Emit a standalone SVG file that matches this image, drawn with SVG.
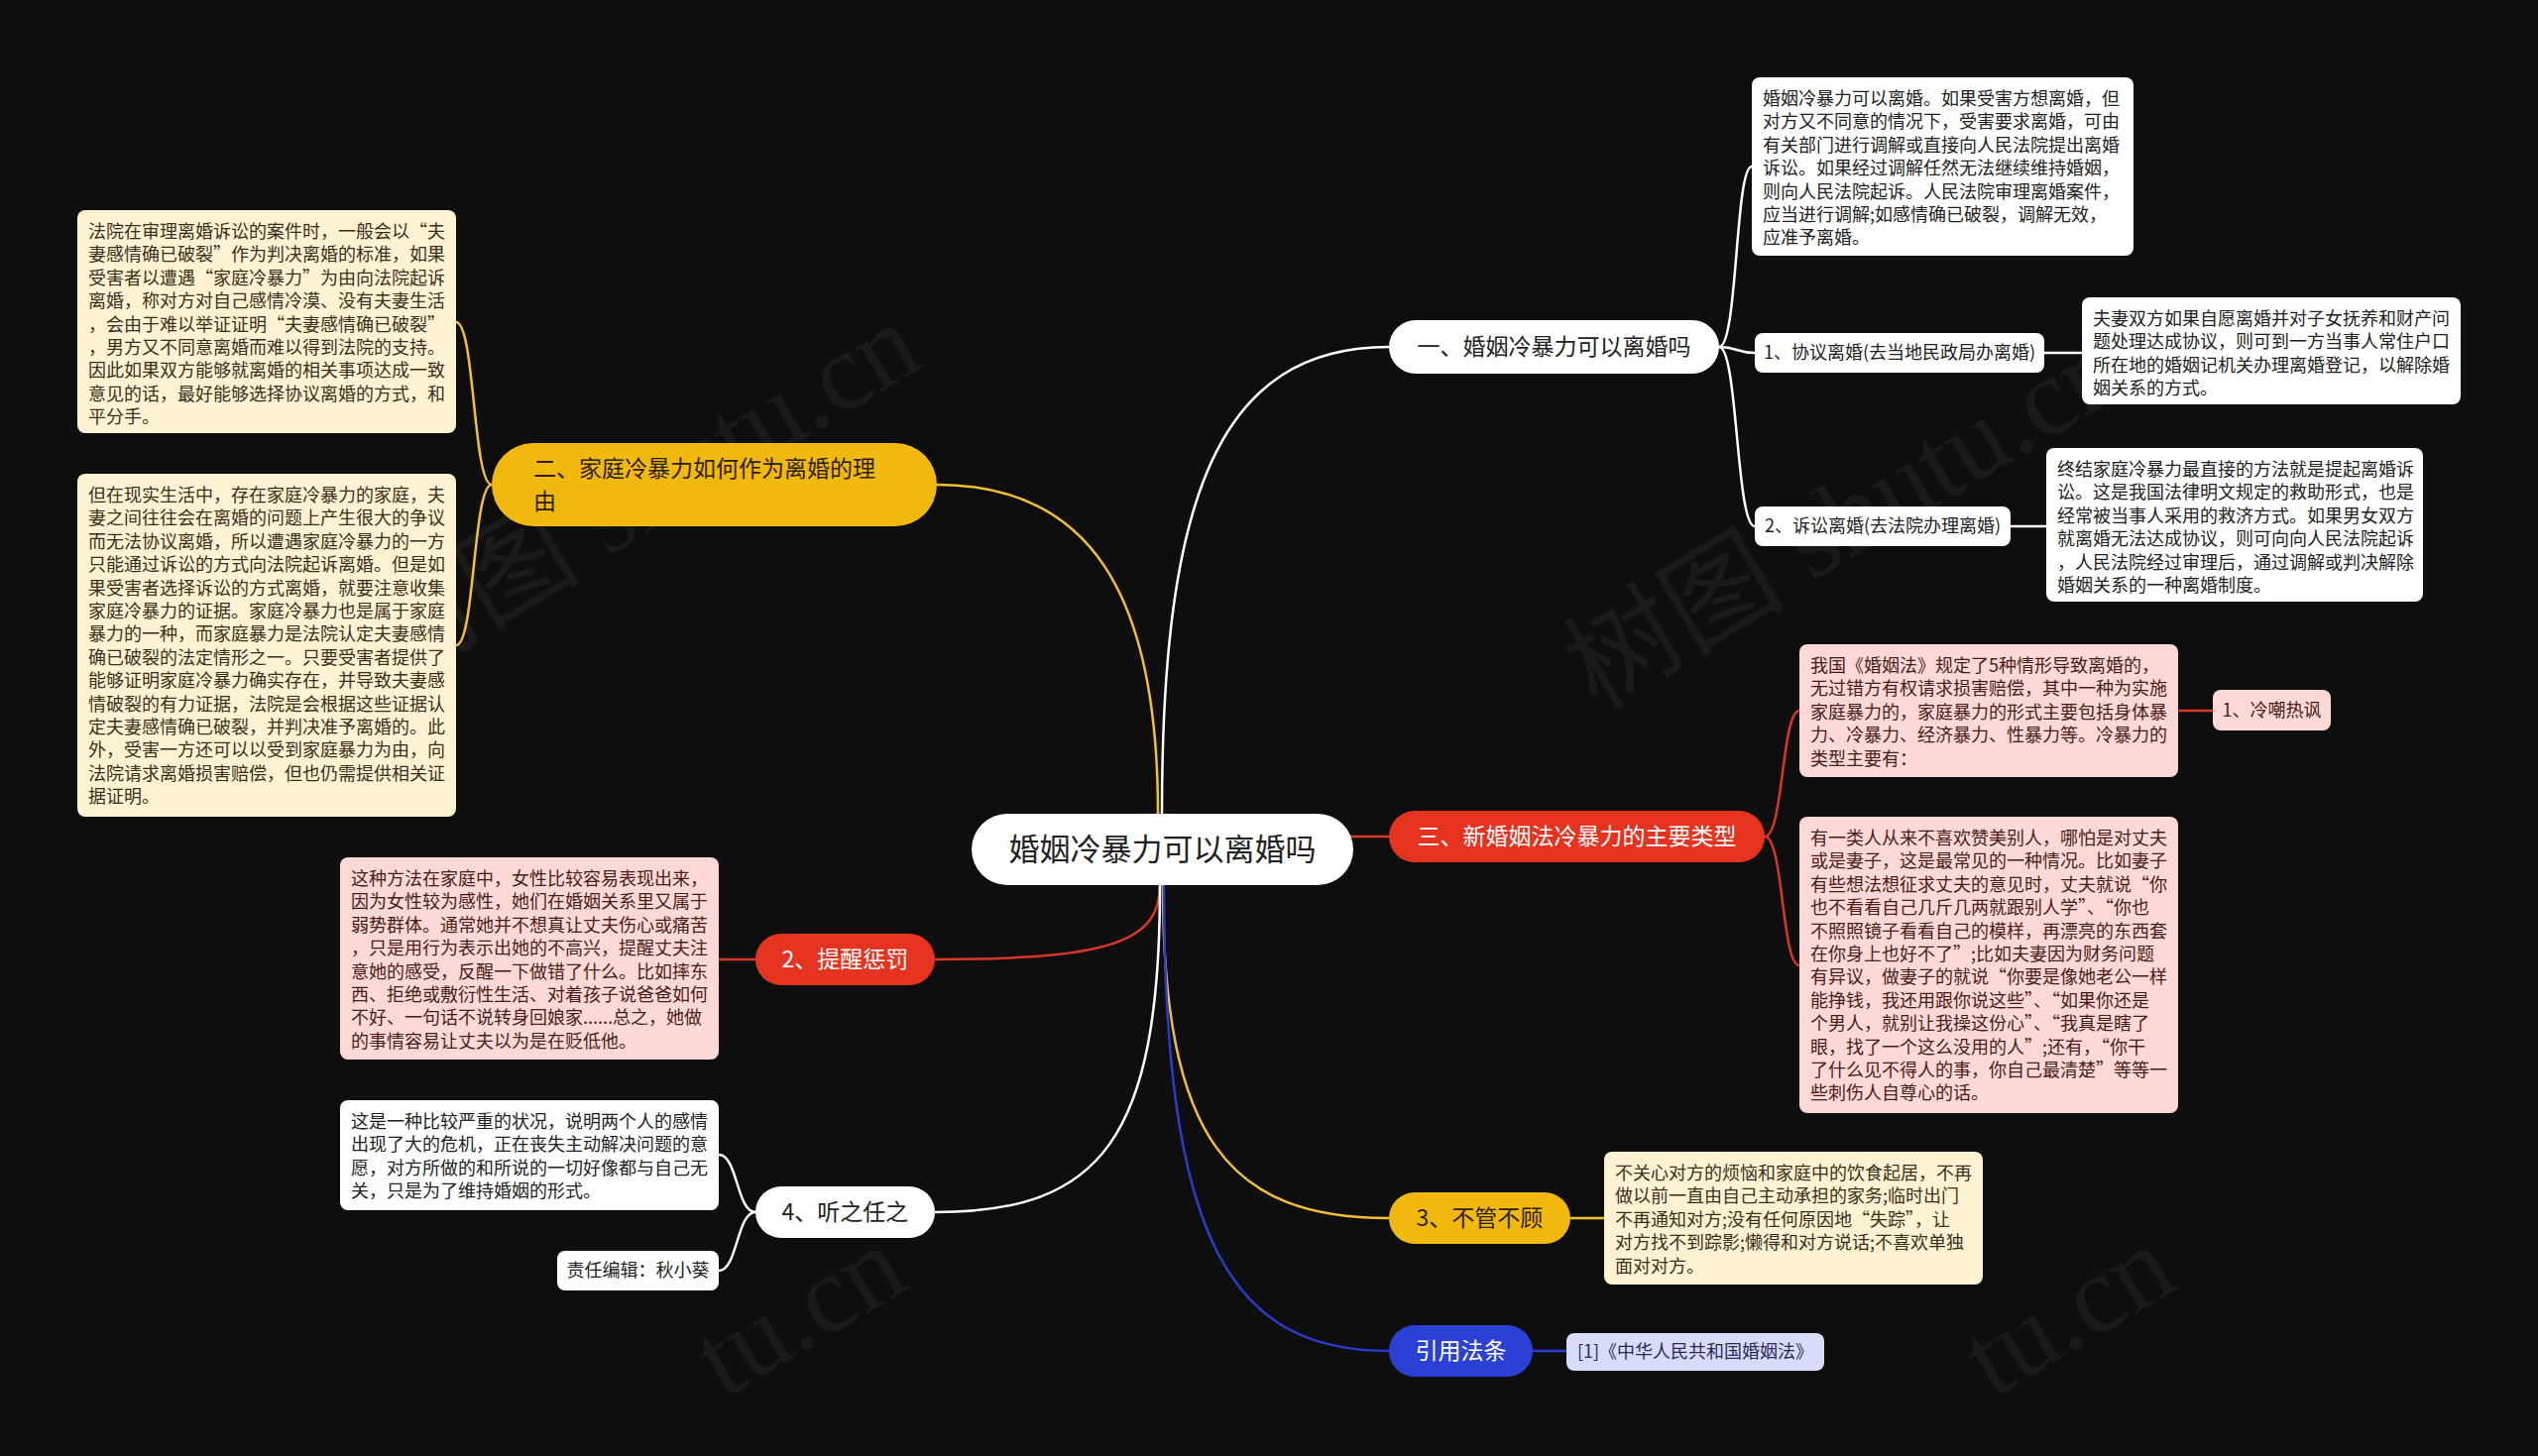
<svg xmlns="http://www.w3.org/2000/svg" width="2560" height="1469" viewBox="0 0 2560 1469">
<style>
text{font-family:"Noto Sans CJK SC","Noto Sans",sans-serif}
.c{fill:none;stroke-width:2.5}
.w{stroke:#ffffff}.y{stroke:#f2c12e}.r{stroke:#d8382a}.b{stroke:#2a3bd0}
.t{font-size:18px}
.tw{fill:#222222}.tc{fill:#3b2f1a}.tp{fill:#4a1c17}
.n{font-size:23px;text-anchor:middle}
.wm{font-size:112px;fill:#ffffff;fill-opacity:0.05;text-anchor:middle;font-family:"Liberation Serif","Noto Sans CJK SC",serif}
</style>
<rect width="2560" height="1469" fill="#0e0e0e"/>
<g id="watermarks">
<text class="wm" transform="translate(665,530) rotate(-31)">树图 shutu.cn</text>
<text class="wm" transform="translate(1880,555) rotate(-31)">树图 shutu.cn</text>
<text class="wm" transform="translate(825,1355) rotate(-31)">tu.cn</text>
<text class="wm" transform="translate(2105,1355) rotate(-31)">tu.cn</text>
</g>
<g id="connectors">
<path class="c w" d="M1172,821 C1172,500 1230,350 1401,350"/>
<path class="c y" d="M1168,821 C1168,600 1100,489 945,489"/>
<path class="c r" d="M1355,844 H1401"/>
<path class="c r" d="M1170,893 C1170,950 1120,968 943,968"/>
<path class="c w" d="M1170,893 C1170,1150 1110,1223 943,1223"/>
<path class="c y" d="M1173,893 C1173,1150 1240,1229 1401,1229"/>
<path class="c b" d="M1174,893 C1174,1250 1240,1363 1401,1363"/>
<path class="c w" d="M1734,350 C1753,350 1750,168 1767,168"/>
<path class="c w" d="M1734,350 C1752,350 1752,356 1770,356"/>
<path class="c w" d="M1734,350 C1753,350 1751,531 1770,531"/>
<path class="c w" d="M2062,356 H2100"/>
<path class="c w" d="M2028,531 H2064"/>
<path class="c r" d="M1780,844 C1799,844 1797,717 1815,717"/>
<path class="c r" d="M1780,844 C1799,844 1797,974 1815,974"/>
<path class="c r" d="M2197,717 H2232"/>
<path class="c y" d="M496,489 C477,489 479,325 460,325"/>
<path class="c y" d="M496,489 C477,489 479,651 460,651"/>
<path class="c r" d="M762,968 H725"/>
<path class="c w" d="M762,1223 C743,1223 744,1165 725,1165"/>
<path class="c w" d="M762,1223 C743,1223 744,1282 725,1282"/>
<path class="c y" d="M1584,1229 H1618"/>
<path class="c b" d="M1546,1363 H1580"/>
</g>
<g id="center">
<rect x="980" y="821" width="385" height="72" rx="36" fill="#ffffff"/>
<text x="1172.5" y="868" font-size="31" text-anchor="middle" fill="#222222">婚姻冷暴力可以离婚吗</text>
</g>
<g id="n1">
<rect x="1401" y="323" width="333" height="54" rx="27" fill="#ffffff"/>
<text class="n" x="1567.5" y="358" fill="#222222">一、婚姻冷暴力可以离婚吗</text>
</g>
<g id="n1a">
<rect x="1767" y="78" width="385" height="180" rx="8" fill="#ffffff"/>
<text class="t tw" x="1778" y="106"><tspan x="1778">婚姻冷暴力可以离婚。如果受害方想离婚，但</tspan><tspan x="1778" dy="23.4">对方又不同意的情况下，受害要求离婚，可由</tspan><tspan x="1778" dy="23.4">有关部门进行调解或直接向人民法院提出离婚</tspan><tspan x="1778" dy="23.4">诉讼。如果经过调解任然无法继续维持婚姻，</tspan><tspan x="1778" dy="23.4">则向人民法院起诉。人民法院审理离婚案件，</tspan><tspan x="1778" dy="23.4">应当进行调解;如感情确已破裂，调解无效，</tspan><tspan x="1778" dy="23.4">应准予离婚。</tspan></text>
</g>
<g id="n1b">
<rect x="1770" y="336" width="292" height="40" rx="8" fill="#ffffff"/>
<text class="t tw" x="1916" y="362" text-anchor="middle">1、协议离婚(去当地民政局办离婚)</text>
</g>
<g id="n1b1">
<rect x="2100" y="300" width="382" height="108" rx="8" fill="#ffffff"/>
<text class="t tw" x="2111" y="328"><tspan x="2111">夫妻双方如果自愿离婚并对子女抚养和财产问</tspan><tspan x="2111" dy="23.4">题处理达成协议，则可到一方当事人常住户口</tspan><tspan x="2111" dy="23.4">所在地的婚姻记机关办理离婚登记，以解除婚</tspan><tspan x="2111" dy="23.4">姻关系的方式。</tspan></text>
</g>
<g id="n1c">
<rect x="1770" y="511" width="258" height="40" rx="8" fill="#ffffff"/>
<text class="t tw" x="1899" y="537" text-anchor="middle">2、诉讼离婚(去法院办理离婚)</text>
</g>
<g id="n1c1">
<rect x="2064" y="452" width="380" height="155" rx="8" fill="#ffffff"/>
<text class="t tw" x="2075" y="480"><tspan x="2075">终结家庭冷暴力最直接的方法就是提起离婚诉</tspan><tspan x="2075" dy="23.4">讼。这是我国法律明文规定的救助形式，也是</tspan><tspan x="2075" dy="23.4">经常被当事人采用的救济方式。如果男女双方</tspan><tspan x="2075" dy="23.4">就离婚无法达成协议，则可向向人民法院起诉</tspan><tspan x="2075" dy="23.4">，人民法院经过审理后，通过调解或判决解除</tspan><tspan x="2075" dy="23.4">婚姻关系的一种离婚制度。</tspan></text>
</g>
<g id="n3">
<rect x="1401" y="818" width="379" height="52" rx="26" fill="#e63320"/>
<text class="n" x="1590.5" y="852" fill="#ffffff">三、新婚姻法冷暴力的主要类型</text>
</g>
<g id="n3a">
<rect x="1815" y="650" width="382" height="134" rx="8" fill="#fcd9d6"/>
<text class="t tp" x="1826" y="678"><tspan x="1826">我国《婚姻法》规定了5种情形导致离婚的，</tspan><tspan x="1826" dy="23.4">无过错方有权请求损害赔偿，其中一种为实施</tspan><tspan x="1826" dy="23.4">家庭暴力的，家庭暴力的形式主要包括身体暴</tspan><tspan x="1826" dy="23.4">力、冷暴力、经济暴力、性暴力等。冷暴力的</tspan><tspan x="1826" dy="23.4">类型主要有：</tspan></text>
</g>
<g id="n3a1">
<rect x="2232" y="696" width="119" height="41" rx="8" fill="#fcd9d6"/>
<text class="t tp" x="2291.5" y="723" text-anchor="middle">1、冷嘲热讽</text>
</g>
<g id="n3b">
<rect x="1815" y="824" width="382" height="299" rx="8" fill="#fcd9d6"/>
<text class="t tp" x="1826" y="852"><tspan x="1826">有一类人从来不喜欢赞美别人，哪怕是对丈夫</tspan><tspan x="1826" dy="23.4">或是妻子，这是最常见的一种情况。比如妻子</tspan><tspan x="1826" dy="23.4">有些想法想征求丈夫的意见时，丈夫就说“你</tspan><tspan x="1826" dy="23.4">也不看看自己几斤几两就跟别人学”、“你也</tspan><tspan x="1826" dy="23.4">不照照镜子看看自己的模样，再漂亮的东西套</tspan><tspan x="1826" dy="23.4">在你身上也好不了”;比如夫妻因为财务问题</tspan><tspan x="1826" dy="23.4">有异议，做妻子的就说“你要是像她老公一样</tspan><tspan x="1826" dy="23.4">能挣钱，我还用跟你说这些”、“如果你还是</tspan><tspan x="1826" dy="23.4">个男人，就别让我操这份心”、“我真是瞎了</tspan><tspan x="1826" dy="23.4">眼，找了一个这么没用的人”;还有，“你干</tspan><tspan x="1826" dy="23.4">了什么见不得人的事，你自己最清楚”等等一</tspan><tspan x="1826" dy="23.4">些刺伤人自尊心的话。</tspan></text>
</g>
<g id="n2">
<rect x="496" y="447" width="449" height="84" rx="42" fill="#f1b80e"/>
<text x="538" y="481" font-size="23" fill="#2b2200"><tspan x="538">二、家庭冷暴力如何作为离婚的理</tspan><tspan x="538" dy="33">由</tspan></text>
</g>
<g id="n2a">
<rect x="78" y="212" width="382" height="225" rx="8" fill="#fdf3d3"/>
<text class="t tc" x="89" y="240"><tspan x="89">法院在审理离婚诉讼的案件时，一般会以“夫</tspan><tspan x="89" dy="23.4">妻感情确已破裂”作为判决离婚的标准，如果</tspan><tspan x="89" dy="23.4">受害者以遭遇“家庭冷暴力”为由向法院起诉</tspan><tspan x="89" dy="23.4">离婚，称对方对自己感情冷漠、没有夫妻生活</tspan><tspan x="89" dy="23.4">，会由于难以举证证明“夫妻感情确已破裂”</tspan><tspan x="89" dy="23.4">，男方又不同意离婚而难以得到法院的支持。</tspan><tspan x="89" dy="23.4">因此如果双方能够就离婚的相关事项达成一致</tspan><tspan x="89" dy="23.4">意见的话，最好能够选择协议离婚的方式，和</tspan><tspan x="89" dy="23.4">平分手。</tspan></text>
</g>
<g id="n2b">
<rect x="78" y="478" width="382" height="346" rx="8" fill="#fdf3d3"/>
<text class="t tc" x="89" y="506"><tspan x="89">但在现实生活中，存在家庭冷暴力的家庭，夫</tspan><tspan x="89" dy="23.4">妻之间往往会在离婚的问题上产生很大的争议</tspan><tspan x="89" dy="23.4">而无法协议离婚，所以遭遇家庭冷暴力的一方</tspan><tspan x="89" dy="23.4">只能通过诉讼的方式向法院起诉离婚。但是如</tspan><tspan x="89" dy="23.4">果受害者选择诉讼的方式离婚，就要注意收集</tspan><tspan x="89" dy="23.4">家庭冷暴力的证据。家庭冷暴力也是属于家庭</tspan><tspan x="89" dy="23.4">暴力的一种，而家庭暴力是法院认定夫妻感情</tspan><tspan x="89" dy="23.4">确已破裂的法定情形之一。只要受害者提供了</tspan><tspan x="89" dy="23.4">能够证明家庭冷暴力确实存在，并导致夫妻感</tspan><tspan x="89" dy="23.4">情破裂的有力证据，法院是会根据这些证据认</tspan><tspan x="89" dy="23.4">定夫妻感情确已破裂，并判决准予离婚的。此</tspan><tspan x="89" dy="23.4">外，受害一方还可以以受到家庭暴力为由，向</tspan><tspan x="89" dy="23.4">法院请求离婚损害赔偿，但也仍需提供相关证</tspan><tspan x="89" dy="23.4">据证明。</tspan></text>
</g>
<g id="n4">
<rect x="762" y="942" width="181" height="52" rx="26" fill="#e63320"/>
<text class="n" x="852.5" y="976" fill="#ffffff">2、提醒惩罚</text>
</g>
<g id="n4a">
<rect x="343" y="865" width="382" height="204" rx="8" fill="#fcd9d6"/>
<text class="t tp" x="354" y="893"><tspan x="354">这种方法在家庭中，女性比较容易表现出来，</tspan><tspan x="354" dy="23.4">因为女性较为感性，她们在婚姻关系里又属于</tspan><tspan x="354" dy="23.4">弱势群体。通常她并不想真让丈夫伤心或痛苦</tspan><tspan x="354" dy="23.4">，只是用行为表示出她的不高兴，提醒丈夫注</tspan><tspan x="354" dy="23.4">意她的感受，反醒一下做错了什么。比如摔东</tspan><tspan x="354" dy="23.4">西、拒绝或敷衍性生活、对着孩子说爸爸如何</tspan><tspan x="354" dy="23.4">不好、一句话不说转身回娘家......总之，她做</tspan><tspan x="354" dy="23.4">的事情容易让丈夫以为是在贬低他。</tspan></text>
</g>
<g id="n5">
<rect x="762" y="1197" width="181" height="52" rx="26" fill="#ffffff"/>
<text class="n" x="852.5" y="1231" fill="#222222">4、听之任之</text>
</g>
<g id="n5a">
<rect x="343" y="1110" width="382" height="111" rx="8" fill="#ffffff"/>
<text class="t tw" x="354" y="1138"><tspan x="354">这是一种比较严重的状况，说明两个人的感情</tspan><tspan x="354" dy="23.4">出现了大的危机，正在丧失主动解决问题的意</tspan><tspan x="354" dy="23.4">愿，对方所做的和所说的一切好像都与自己无</tspan><tspan x="354" dy="23.4">关，只是为了维持婚姻的形式。</tspan></text>
</g>
<g id="n5b">
<rect x="562" y="1262" width="163" height="40" rx="8" fill="#ffffff"/>
<text class="t tw" x="643.5" y="1288" text-anchor="middle">责任编辑：秋小葵</text>
</g>
<g id="n6">
<rect x="1401" y="1203" width="183" height="52" rx="26" fill="#f1b80e"/>
<text class="n" x="1492.5" y="1237" fill="#2b2200">3、不管不顾</text>
</g>
<g id="n6a">
<rect x="1618" y="1162" width="382" height="134" rx="8" fill="#fdf3d3"/>
<text class="t tc" x="1629" y="1190"><tspan x="1629">不关心对方的烦恼和家庭中的饮食起居，不再</tspan><tspan x="1629" dy="23.4">做以前一直由自己主动承担的家务;临时出门</tspan><tspan x="1629" dy="23.4">不再通知对方;没有任何原因地“失踪”，让</tspan><tspan x="1629" dy="23.4">对方找不到踪影;懒得和对方说话;不喜欢单独</tspan><tspan x="1629" dy="23.4">面对对方。</tspan></text>
</g>
<g id="n7">
<rect x="1401" y="1337" width="145" height="52" rx="26" fill="#2b40d4"/>
<text class="n" x="1473.5" y="1371" fill="#ffffff">引用法条</text>
</g>
<g id="n7a">
<rect x="1580" y="1345" width="260" height="38" rx="8" fill="#d8dcf8"/>
<text class="t" x="1710" y="1370" text-anchor="middle" fill="#2a2a5a">[1]《中华人民共和国婚姻法》</text>
</g>
</svg>
